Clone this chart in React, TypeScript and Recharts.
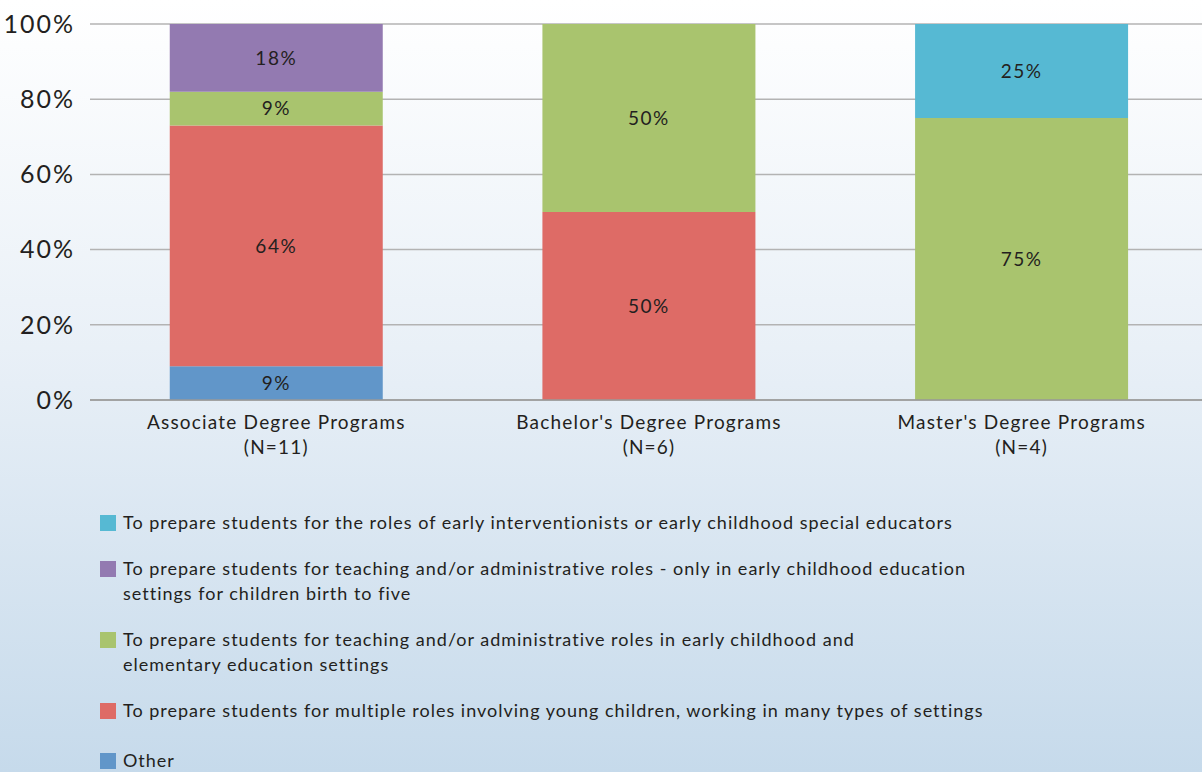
import { BarChart, Bar, XAxis, YAxis, CartesianGrid, LabelList } from "recharts";

const programs = ["Associate Degree Programs", "Bachelor's Degree Programs", "Master's Degree Programs"];
const counts = ["(N=11)", "(N=6)", "(N=4)"];

// percent of programs per stated purpose
const other = [9, 0, 0];
const multipleRoles = [64, 50, 0];
const elementary = [9, 50, 75];
const birthToFive = [18, 0, 0];
const earlyIntervention = [0, 0, 25];

const yTicks = [0, 20, 40, 60, 80, 100];

const series = [
  { key: "other", label: "Other", color: "#6196c9", values: other },
  {
    key: "multiple",
    label: "To prepare students for multiple roles involving young children, working in many types of settings",
    color: "#de6b66",
    values: multipleRoles,
  },
  {
    key: "elementary",
    label: "To prepare students for teaching and/or administrative roles in early childhood and\nelementary education settings",
    color: "#a9c46e",
    values: elementary,
  },
  {
    key: "birthFive",
    label: "To prepare students for teaching and/or administrative roles - only in early childhood education\nsettings for children birth to five",
    color: "#937ab1",
    values: birthToFive,
  },
  {
    key: "ei",
    label: "To prepare students for the roles of early interventionists or early childhood special educators",
    color: "#56b9d3",
    values: earlyIntervention,
  },
];

const data = programs.map((name, i) => {
  const row: Record<string, string | number> = { name, n: counts[i] };
  series.forEach((s) => (row[s.key] = s.values[i]));
  return row;
});

const FONT = "Lato, 'Open Sans', sans-serif";
const TEXT = "#231f20";

function CategoryTick(props: any) {
  const { x, y, payload, index } = props;
  return (
    <text x={x} y={y} textAnchor="middle" fontFamily={FONT} fontSize={19} letterSpacing={1.2} fill={TEXT}>
      <tspan x={x} dy={21}>{payload.value}</tspan>
      <tspan x={x} dy={25}>{counts[index]}</tspan>
    </text>
  );
}

function pct(v: any) {
  return v ? `${v}%` : "";
}

export default function App() {
  return (
    <div
      style={{
        position: "absolute",
        left: 0,
        top: 0,
        width: 1202,
        height: 772,
        overflow: "hidden",
        background: "linear-gradient(to bottom, #ffffff 0%, #e9f0f7 45%, #c6daeb 100%)",
        fontFamily: FONT,
      }}
    >
      <BarChart width={1202} height={470} data={data} margin={{ top: 24, right: -6, bottom: 0, left: 0 }} barCategoryGap="21.4%">
        <CartesianGrid vertical={false} stroke="#b3b3b3" strokeWidth={1.5} />
        <XAxis
          dataKey="name"
          height={70}
          tick={<CategoryTick />}
          tickLine={false}
          axisLine={{ stroke: "#999", strokeWidth: 1.5 }}
          interval={0}
        />
        <YAxis
          width={90}
          domain={[0, 100]}
          ticks={yTicks}
          tickFormatter={(v) => `${v}%`}
          tick={{ fontSize: 25, fill: TEXT, fontFamily: FONT, letterSpacing: 2 }}
          axisLine={false}
          tickLine={false}
          tickMargin={9}
        />
        {series.map((s) => (
          <Bar key={s.key} dataKey={s.key} stackId="a" fill={s.color} isAnimationActive={false}>
            <LabelList
              dataKey={s.key}
              position="center"
              formatter={pct}
              fontSize={19}
              letterSpacing={1.5}
              fill={TEXT}
              fontFamily={FONT}
            />
          </Bar>
        ))}
      </BarChart>
      <div style={{ position: "absolute", left: 100, top: 510, display: "flex", flexDirection: "column", gap: 21 }}>
        {[...series].reverse().map((s, i) => (
          <div
            key={s.key}
            style={{
              display: "flex",
              alignItems: "flex-start",
              fontSize: 18,
              letterSpacing: 1,
              lineHeight: "25px",
              color: TEXT,
              marginTop: i === series.length - 1 ? 4 : 0,
            }}
          >
            <span style={{ width: 16, height: 16, background: s.color, marginTop: 5, marginRight: 7, flex: "none" }} />
            <span style={{ whiteSpace: "pre-line" }}>{s.label}</span>
          </div>
        ))}
      </div>
    </div>
  );
}
